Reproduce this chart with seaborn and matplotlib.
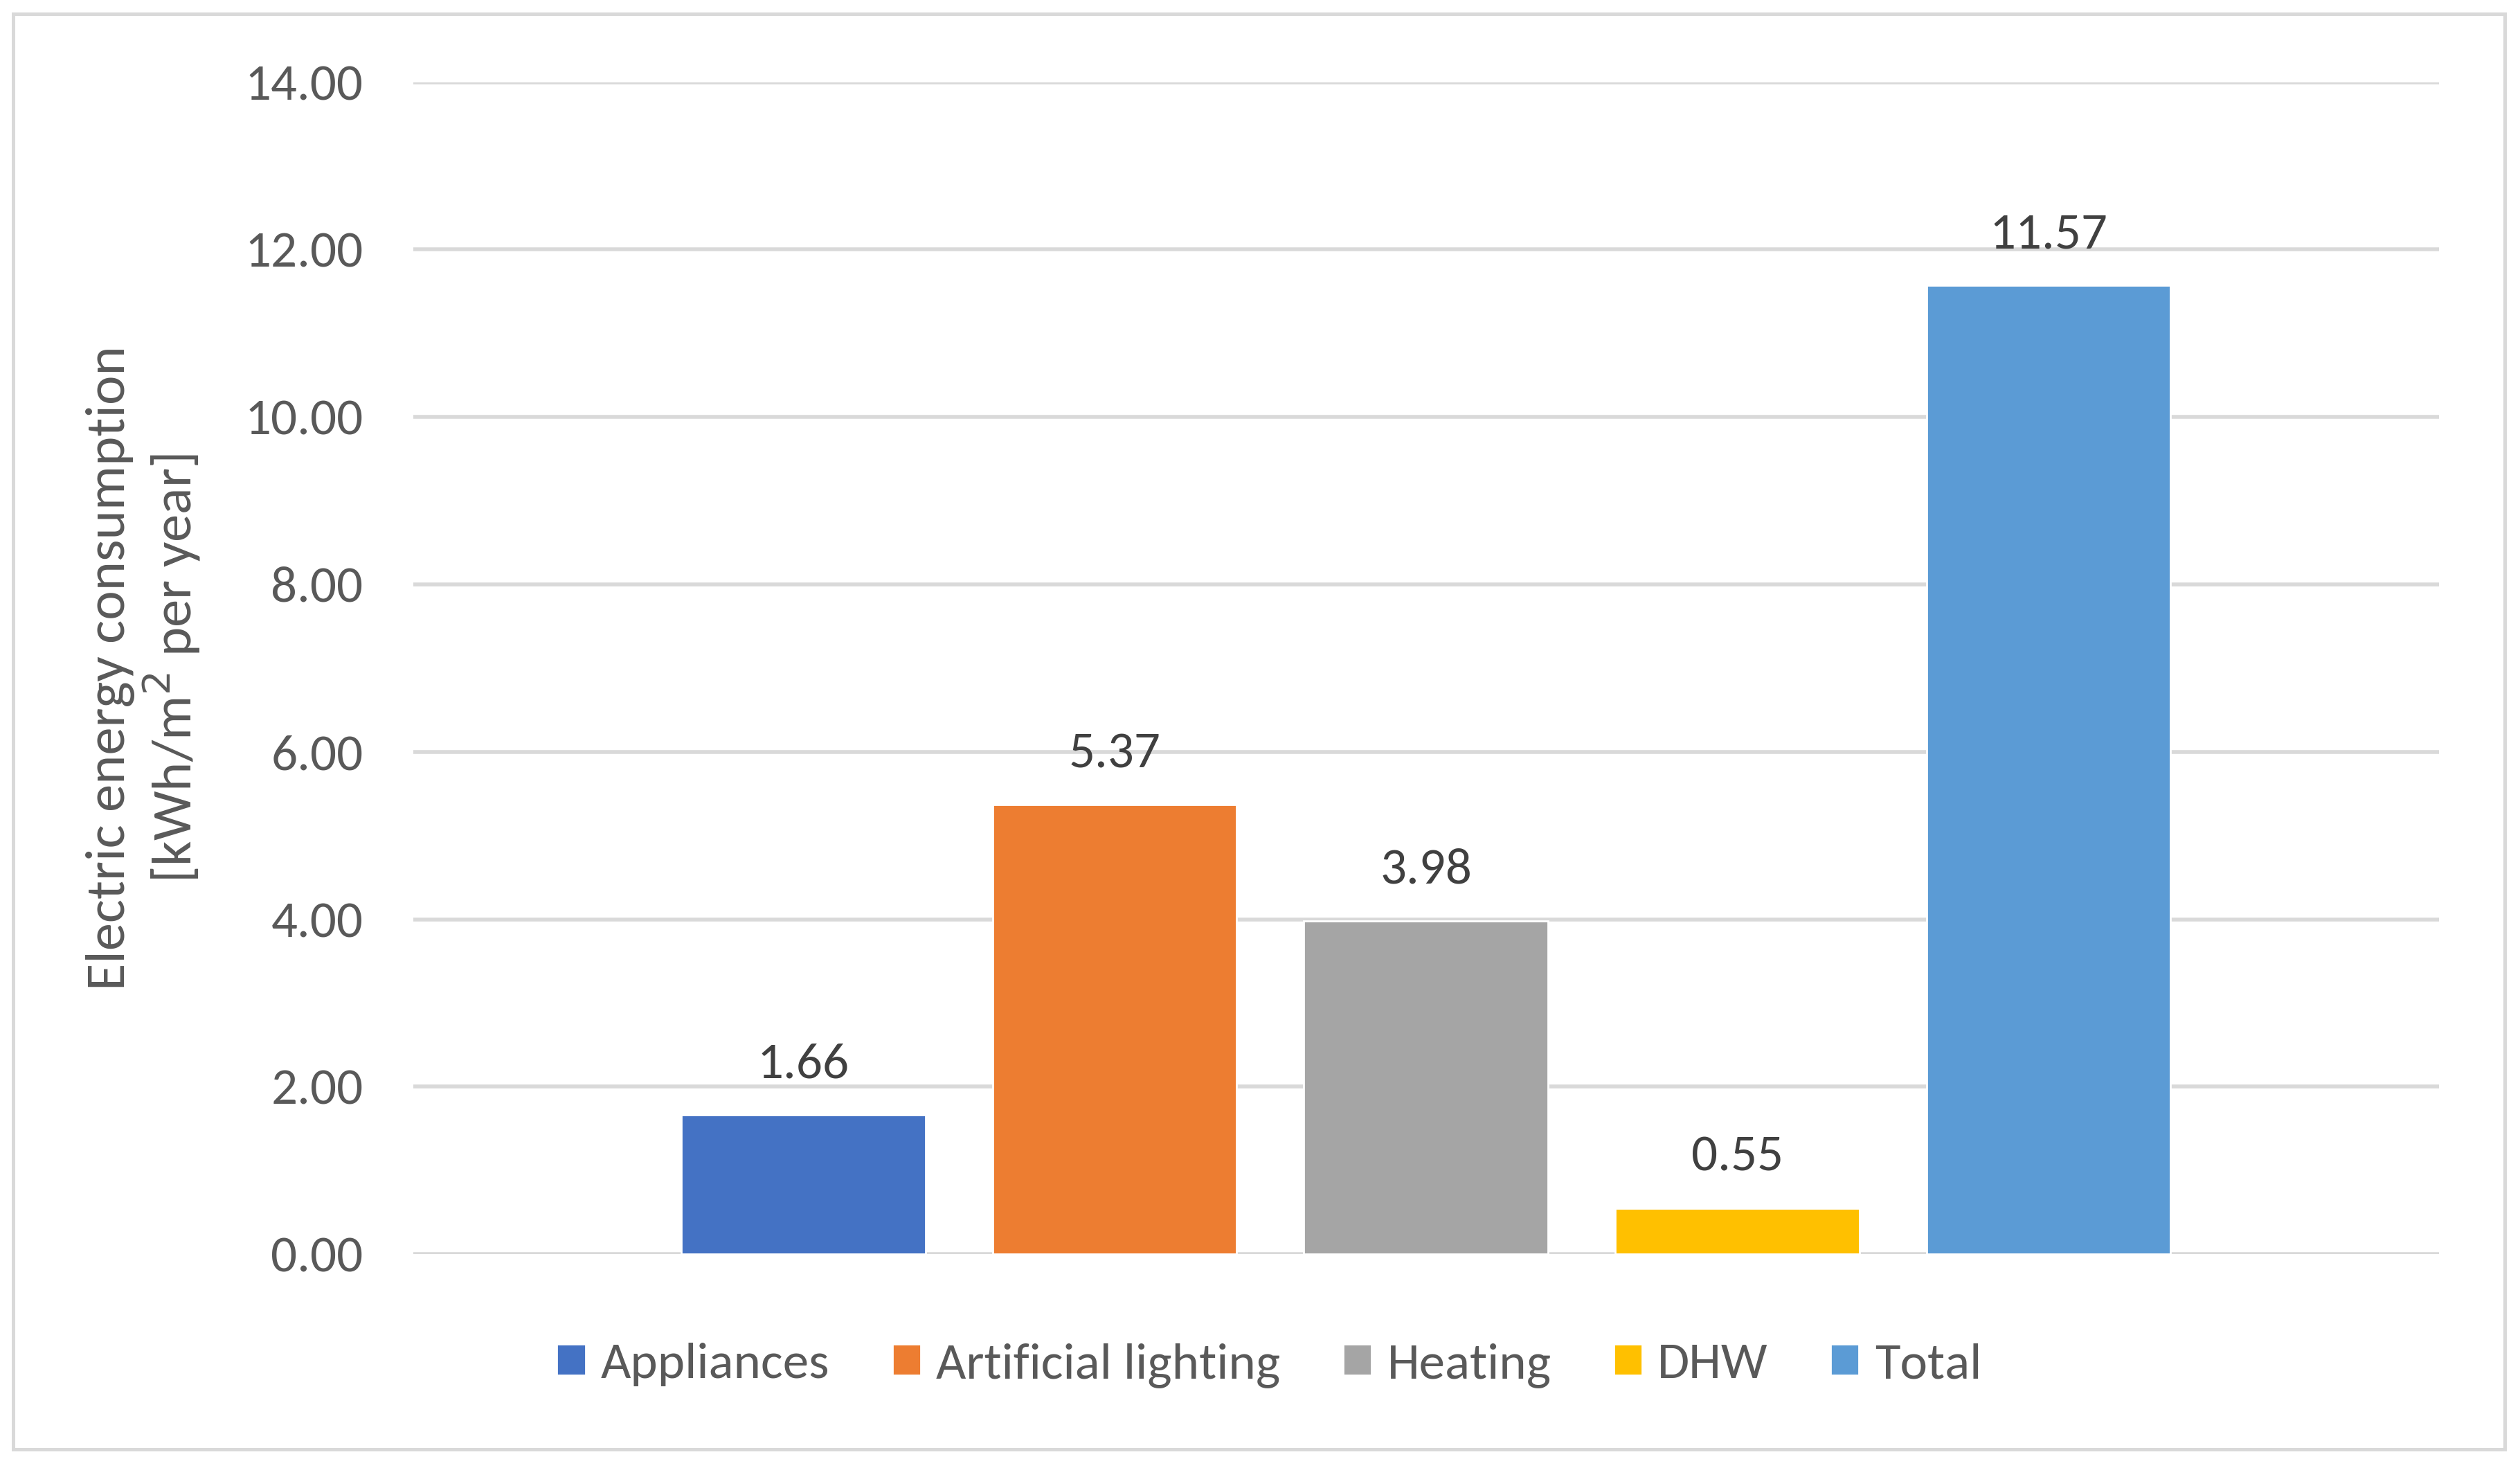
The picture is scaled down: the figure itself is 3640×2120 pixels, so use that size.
import numpy as np
import pandas as pd
import seaborn as sns
import matplotlib.pyplot as plt
from matplotlib.patches import Rectangle

categories = ['Appliances', 'Artificial lighting', 'Heating', 'DHW', 'Total']
values = [1.66, 5.37, 3.98, 0.55, 11.57]
colors = ['#4472C4', '#ED7D31', '#A5A5A5', '#FFC000', '#5B9BD5']
yticks = [0, 2, 4, 6, 8, 10, 12, 14]

df = pd.DataFrame({'use': categories, 'kwh': values})

sns.set_style('white')
plt.rcParams['font.family'] = ['Carlito', 'Lato', 'DejaVu Sans']

fig = plt.figure(figsize=(18.205, 10.6), dpi=200)
ax = fig.add_axes([0.1639, 0.1457, 0.8036, 0.7984])

sns.barplot(data=df, x='use', y='kwh', hue='use', palette=colors,
            width=0.784, dodge=False, legend=True, ax=ax, saturation=1)

# value labels above bars
for c in ax.containers:
    ax.bar_label(c, fmt='%.2f', padding=15, fontsize=27, color='#404040')

ax.set_ylim(0, 14)
ax.set_xlim(-1.253, 5.253)
ax.set_yticks(yticks)
ax.set_yticklabels(['%.2f' % t for t in yticks], fontsize=27, color='#595959')
ax.set_xticks([])
ax.set_xlabel('')
ax.set_ylabel('Electric energy consumption\n[kWh/m$^2$ per year]',
              fontsize=29, color='#595959', labelpad=22, linespacing=1.1)
ax.tick_params(axis='y', length=0, pad=26)
ax.yaxis.grid(True, color='#D9D9D9', lw=2.0)
ax.set_axisbelow(True)
for s in ax.spines.values():
    s.set_visible(False)

handles, labels = ax.get_legend_handles_labels()
ax.get_legend().remove()
fig.legend(handles, labels, loc='center', bbox_to_anchor=(0.5035, 0.070),
           ncol=5, frameon=False, fontsize=27, labelcolor='#595959',
           handlelength=0.55, handleheight=0.55, handletextpad=0.3,
           columnspacing=1.2)

# chart area border
fig.patches.append(Rectangle((0.0052, 0.0127), 0.9885, 0.978,
                             transform=fig.transFigure, fill=False,
                             edgecolor='#D9D9D9', lw=1.8))

fig.savefig('out.png', dpi=200)
